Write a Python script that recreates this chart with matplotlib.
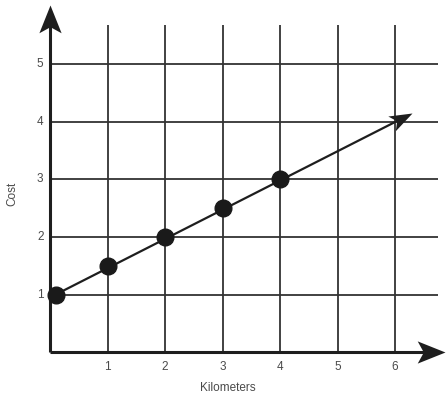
import numpy as np
import matplotlib.pyplot as plt
from matplotlib.markers import MarkerStyle
from matplotlib.path import Path

plt.rcParams["font.family"] = ["Liberation Sans", "DejaVu Sans"]

# data
x_ticks = [1, 2, 3, 4, 5, 6]
y_ticks = [1, 2, 3, 4, 5]
km = [0.1, 1, 2, 3, 4]
cost = [1, 1.5, 2, 2.5, 3]
trend_end = (6.3, 4.15)

grid_x_end = 6.75
grid_y_end = 5.69
axis_x_end = 6.87
axis_y_end = 6.03


def arrow_head(ang, half_w=0.37, notch=0.78):
    # tip at origin, pointing up, then rotated
    verts = [(0, 0), (half_w, -1), (0, -notch), (-half_w, -1), (0, 0)]
    codes = [Path.MOVETO, Path.LINETO, Path.LINETO, Path.LINETO, Path.CLOSEPOLY]
    return MarkerStyle(Path(verts, codes)).rotated(deg=ang)


fig = plt.figure(figsize=(4.47, 3.97), dpi=100)
ax = fig.add_axes([50 / 447, 45 / 397, 6.9 * 57.5 / 447, 6.1 * 57.5 / 397])
ax.set_xlim(0, 6.9)
ax.set_ylim(0, 6.1)
ax.axis("off")

ink = "#1e1e1e"

# grid
ax.vlines(x_ticks, 0, grid_y_end, color="#333333", lw=1.3)
ax.hlines(y_ticks, 0, grid_x_end, color="#333333", lw=1.3)

# axes
ax.plot([0, axis_x_end - 0.25], [0, 0], color=ink, lw=2.2, solid_capstyle="butt", clip_on=False)
ax.plot([0, 0], [0, axis_y_end - 0.25], color=ink, lw=2.2, solid_capstyle="butt", clip_on=False)
ax.plot(axis_x_end, 0, marker=arrow_head(-90, half_w=0.4), color=ink, markersize=40, mew=0,
        clip_on=False)
ax.plot(0, axis_y_end, marker=arrow_head(0, half_w=0.4), color=ink, markersize=40, mew=0,
        clip_on=False)

# trend line with arrow
ang = np.degrees(np.arctan2(trend_end[1] - cost[0], trend_end[0] - km[0]))
ax.plot([km[0], trend_end[0] - 0.2], [cost[0], trend_end[1] - 0.1], color=ink, lw=1.6,
        clip_on=False)
ax.plot(*trend_end, marker=arrow_head(ang - 90, half_w=0.36, notch=0.75), color=ink,
        markersize=33, mew=0, clip_on=False)

ax.plot(km, cost, "o", color="#1a1a1a", markersize=12, clip_on=False, zorder=5)

# tick labels
for x in x_ticks:
    ax.text(x, -0.26, str(x), ha="center", va="center", fontsize=8.5, color="#4a4a4a")
for y in y_ticks:
    ax.text(-0.17, y, str(y), ha="center", va="center", fontsize=8.5, color="#4a4a4a")

ax.text(3.1, -0.63, "Kilometers", ha="center", va="center", fontsize=8.5, color="#4a4a4a")
ax.text(-0.66, 2.75, "Cost", ha="center", va="center", rotation=90, fontsize=8.5, color="#4a4a4a")

fig.savefig("out.png", dpi=100)
